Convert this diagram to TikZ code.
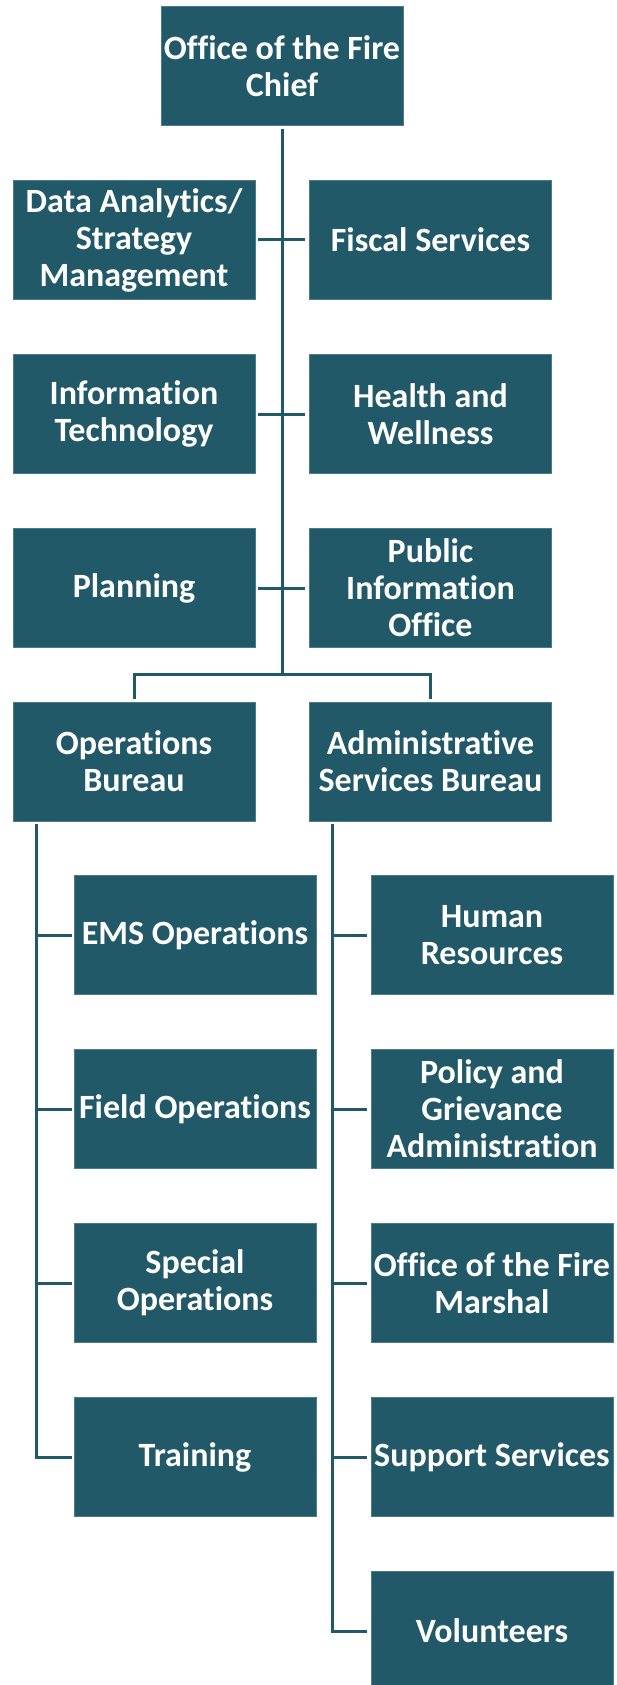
\documentclass[tikz,border=0pt]{standalone}
\usepackage{fontspec}
\setmainfont{Carlito}[Ligatures=NoCommon]
\definecolor{boxc}{HTML}{215968}
\definecolor{edgec}{HTML}{4A7C89}
\begin{document}
\begin{tikzpicture}[x=1pt,y=-1pt,
  box/.style={rectangle, fill=boxc, draw=edgec, line width=0.8pt,
    minimum width=242pt, minimum height=119pt, inner sep=0pt,
    align=center, text=white,
    font=\bfseries\fontsize{34}{37}\selectfont},
  link/.style={draw=boxc, line width=3pt}]
\useasboundingbox (0,0) rectangle (616,1685);
% top
\node[box] (chief) at (282,66) {Office of the Fire\\Chief};
\node[box] (data) at (134,240) {Data Analytics/\\Strategy\\Management};
\node[box] (fiscal) at (430.5,240) {Fiscal Services};
\node[box] (it) at (134,414) {Information\\Technology};
\node[box] (health) at (430.5,414) {Health and\\Wellness};
\node[box] (plan) at (134,588) {Planning};
\node[box] (pio) at (430.5,588) {Public\\Information\\Office};
\node[box] (ops) at (134,761.5) {Operations\\Bureau};
\node[box] (admin) at (430.5,761.5) {Administrative\\Services Bureau};
% operations children
\node[box] (ems) at (195,935) {EMS Operations};
\node[box] (field) at (195,1109) {Field Operations};
\node[box] (special) at (195,1283) {Special\\Operations};
\node[box] (training) at (195,1457) {Training};
% admin children
\node[box] (hr) at (492,935) {Human\\Resources};
\node[box] (policy) at (492,1109) {Policy and\\Grievance\\Administration};
\node[box] (marshal) at (492,1283) {Office of the Fire\\Marshal};
\node[box] (support) at (492,1457) {Support Services};
\node[box] (vol) at (492,1631) {Volunteers};
% connectors
\coordinate (br) at (282,674);
\draw[link, shorten <=3pt] (chief.south) -- (br);
\draw[link, shorten <=3pt, shorten >=4pt] (data.east) -- (fiscal.west);
\draw[link, shorten <=3pt, shorten >=4pt] (it.east) -- (health.west);
\draw[link, shorten <=3pt, shorten >=4pt] (plan.east) -- (pio.west);
\draw[link, shorten <=3pt, shorten >=3pt] (ops.north) |- (br) -| (admin.north);
\coordinate (os) at (36,824);
\coordinate (as) at (332,824);
\draw[link, shorten >=2pt] (os) |- (training.west);
\draw[link, shorten >=2pt] (os |- ems.west) -- (ems.west);
\draw[link, shorten >=2pt] (os |- field.west) -- (field.west);
\draw[link, shorten >=2pt] (os |- special.west) -- (special.west);
\draw[link, shorten >=4pt] (as) |- (vol.west);
\draw[link, shorten >=4pt] (as |- hr.west) -- (hr.west);
\draw[link, shorten >=4pt] (as |- policy.west) -- (policy.west);
\draw[link, shorten >=4pt] (as |- marshal.west) -- (marshal.west);
\draw[link, shorten >=4pt] (as |- support.west) -- (support.west);
\end{tikzpicture}
\end{document}
